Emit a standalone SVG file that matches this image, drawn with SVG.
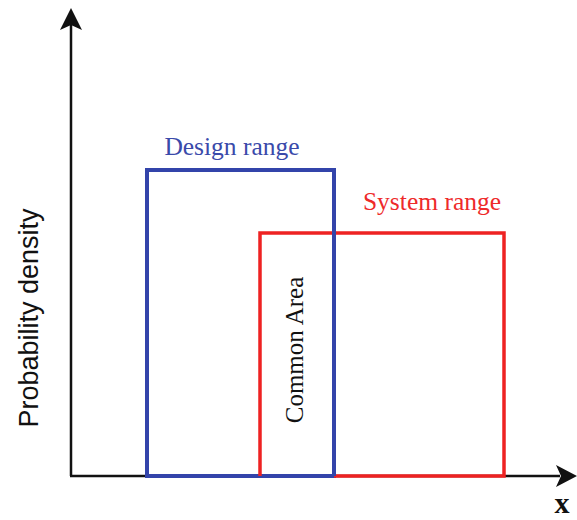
<svg xmlns="http://www.w3.org/2000/svg" width="577" height="520" viewBox="0 0 577 520">
<style>
.ax{stroke:#111;stroke-width:2.5;fill:none}
.serif{font-family:"Liberation Serif","Times New Roman",serif}
</style>
<rect width="577" height="520" fill="#fff"/>
<g id="connectors">
<line class="ax" x1="71" y1="476" x2="71" y2="24"/>
<polygon points="71,8 60,30 71,25 82,30" fill="#111"/>
<line class="ax" x1="70" y1="476" x2="560" y2="476"/>
<polygon points="577,476 556,465 561,476 556,487" fill="#111"/>
</g>
<g id="design">
<rect x="147" y="170" width="187" height="306" fill="none" stroke="#3344aa" stroke-width="4"/>
<text class="serif" x="232" y="155" font-size="25.5" fill="#3a4aaa" text-anchor="middle">Design range</text>
</g>
<g id="system">
<polyline points="334,476 504,476 504,233 260,233 260,476" fill="none" stroke="#ee2222" stroke-width="3.5"/>
<line x1="334" y1="170" x2="334" y2="476" stroke="#3344aa" stroke-width="4"/>
<text class="serif" x="432" y="210" font-size="25.5" fill="#ee2a2a" text-anchor="middle">System range</text>
</g>
<g id="common">
<text class="serif" transform="translate(303,350) rotate(-90)" font-size="25" fill="#111" text-anchor="middle">Common Area</text>
</g>
<g id="ylabel">
<text transform="translate(38,318) rotate(-90)" font-family="Liberation Sans, Arial, sans-serif" font-size="27" fill="#111" text-anchor="middle">Probability density</text>
</g>
<g id="xlabel">
<text class="serif" x="562" y="513" font-size="30" font-weight="bold" fill="#111" text-anchor="middle">x</text>
</g>
</svg>
